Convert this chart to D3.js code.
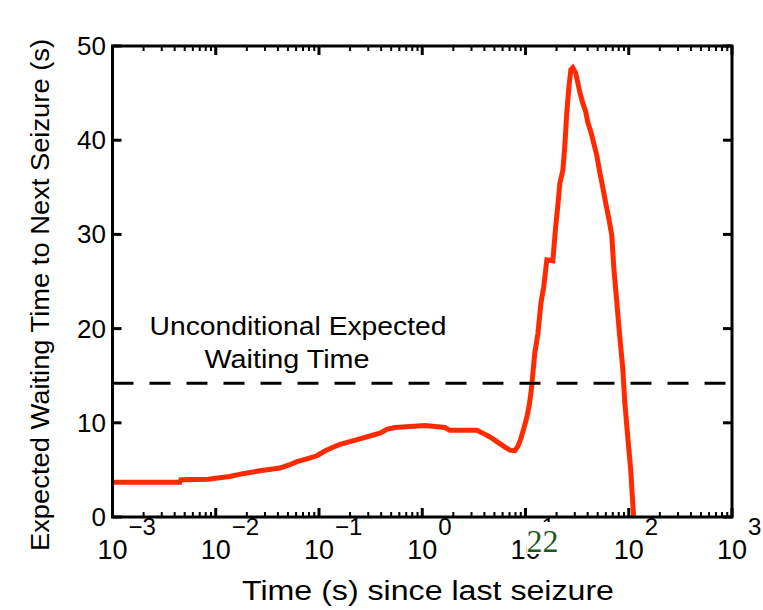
<!DOCTYPE html>
<html>
<head>
<meta charset="utf-8">
<script src="https://cdn.jsdelivr.net/npm/d3@7"></script>
<style>
  html, body { margin: 0; padding: 0; background: #fff; }
  svg { display: block; }
  text { font-family: "Liberation Sans", Arial, Helvetica, sans-serif; fill: #000; }
</style>
</head>
<body>
<svg id="chart" width="763" height="610"></svg>
<script>
// ---- data ----
const timeSec = [0.001, 0.0023, 0.0045, 0.0046, 0.0084, 0.0137, 0.0183, 0.0268, 0.0418, 0.0522, 0.0611, 0.0763, 0.0955,
  0.114, 0.133, 0.160, 0.199, 0.249, 0.311, 0.389, 0.454, 0.543, 1.06, 1.66, 1.85, 3.38, 3.86, 4.52, 5.28, 6.17, 7.05,
  7.88, 8.43, 9.01, 9.63, 10.3, 10.8, 11.3, 11.8, 12.3, 13.2, 14.1, 15.0, 16.1, 18.4, 19.6, 20.5, 21.5, 23.0, 24.0,
  25.1, 26.3, 27.5, 28.7, 30.7, 32.1, 33.6, 35.9, 38.4, 40.1, 42.9, 45.8, 49.0, 52.4, 56.0, 59.9, 64.1, 68.5, 71.6,
  76.6, 81.9, 87.5, 91.5, 97.8, 104.5, 109.3, 111.6];
const waitSec = [3.68, 3.7, 3.7, 3.95, 4.0, 4.3, 4.6, 4.9, 5.2, 5.55, 5.87, 6.16, 6.5,
  7.0, 7.36, 7.7, 8.0, 8.3, 8.6, 8.9, 9.3, 9.5, 9.7, 9.5, 9.2, 9.2, 8.9, 8.5, 8.0, 7.5, 7.1,
  7.04, 7.5, 8.3, 9.4, 10.6, 11.7, 13.2, 15.3, 17.4, 19.5, 22.7, 24.4, 27.3, 27.2, 30.8, 32.9, 35.4, 36.8, 39.3,
  42.9, 45.6, 47.5, 47.7, 47.1, 46.1, 45.1, 43.9, 43.0, 41.9, 40.9, 39.7, 38.4, 36.6, 35.0, 33.3, 31.7, 29.9, 26.5,
  22.8, 19.1, 15.8, 12.2, 8.5, 5.0, 1.5, 0.0];
const unconditionalWait = 14.2;
const xDomain = [1e-3, 1e3];
const yDomain = [0, 50];
const xTickExponents = [-3, -2, -1, 0, 1, 2, 3];
const yTickValues = [0, 10, 20, 30, 40, 50];
const annotationLines = ["Unconditional Expected", "Waiting Time"];
const xLabel = "Time (s) since last seizure";
const yLabel = "Expected Waiting Time to Next Seizure (s)";
const strayLabel = "22";

// ---- layout ----
const svg = d3.select("#chart");
const L = 112.5, R = 732, T = 46, B = 517;
const x = d3.scaleLog().domain(xDomain).range([L, R]);
const y = d3.scaleLinear().domain(yDomain).range([B, T]);

const g = svg.append("g");

// curve
const line = d3.line().x(d => x(d[0])).y(d => y(d[1]));
const pts = timeSec.map((t, i) => [t, waitSec[i]]);
g.append("path")
  .attr("d", line(pts))
  .attr("fill", "none")
  .attr("stroke", "#ff2a00")
  .attr("stroke-width", 5)
  .attr("stroke-linejoin", "miter");

// dashed unconditional line
g.append("line")
  .attr("x1", L).attr("x2", R)
  .attr("y1", y(unconditionalWait)).attr("y2", y(unconditionalWait))
  .attr("stroke", "#000").attr("stroke-width", 3)
  .attr("stroke-dasharray", "21,16");

// ticks (inward, mirrored)
const majorLen = 9, minorLen = 5;
const minor = [];
for (let e = -3; e < 3; e++) for (let k = 2; k <= 9; k++) minor.push(k * Math.pow(10, e));
const tg = g.append("g").attr("stroke", "#000");
minor.forEach(v => {
  tg.append("line").attr("x1", x(v)).attr("x2", x(v)).attr("y1", B).attr("y2", B - minorLen).attr("stroke-width", 2);
  tg.append("line").attr("x1", x(v)).attr("x2", x(v)).attr("y1", T).attr("y2", T + minorLen).attr("stroke-width", 2);
});
xTickExponents.forEach(e => {
  const v = Math.pow(10, e);
  tg.append("line").attr("x1", x(v)).attr("x2", x(v)).attr("y1", B).attr("y2", B - majorLen).attr("stroke-width", 3);
  tg.append("line").attr("x1", x(v)).attr("x2", x(v)).attr("y1", T).attr("y2", T + majorLen).attr("stroke-width", 3);
});
yTickValues.forEach(v => {
  tg.append("line").attr("x1", L).attr("x2", L + majorLen).attr("y1", y(v)).attr("y2", y(v)).attr("stroke-width", 3);
  tg.append("line").attr("x1", R).attr("x2", R - majorLen).attr("y1", y(v)).attr("y2", y(v)).attr("stroke-width", 3);
});

// box
g.append("rect")
  .attr("x", L).attr("y", T).attr("width", R - L).attr("height", B - T)
  .attr("fill", "none").attr("stroke", "#000").attr("stroke-width", 3);

// y tick labels
yTickValues.forEach(v => {
  g.append("text")
    .attr("x", 106).attr("y", y(v) + 9)
    .attr("text-anchor", "end")
    .attr("font-size", 26)
    .text(v);
});

// x tick labels: "10" centred on tick, exponent upper right
xTickExponents.forEach(e => {
  const cx = x(Math.pow(10, e));
  g.append("text")
    .attr("x", cx).attr("y", 559)
    .attr("text-anchor", "middle")
    .attr("font-size", 27)
    .text("10");
  g.append("text")
    .attr("x", cx + 16).attr("y", 535)
    .attr("text-anchor", "start")
    .attr("font-size", 24)
    .text(e < 0 ? "\u2212" + Math.abs(e) : String(e));
});

// stray "22" overlay near 10^1
const sx = x(10) + 17;
g.append("rect").attr("x", sx - 16).attr("y", 522).attr("width", 34).attr("height", 32).attr("fill", "#fff");
g.append("text")
  .attr("x", sx).attr("y", 552)
  .attr("text-anchor", "middle")
  .style("font-family", "'Liberation Serif', 'DejaVu Serif', 'Times New Roman', serif")
  .style("font-size", "32px")
  .style("fill", "#1e5a1e")
  .text(strayLabel);

// annotation
g.append("text").attr("x", 298).attr("y", 335).attr("text-anchor", "middle")
  .attr("font-size", 26).attr("textLength", 297).attr("lengthAdjust", "spacingAndGlyphs")
  .text(annotationLines[0]);
g.append("text").attr("x", 287).attr("y", 368).attr("text-anchor", "middle")
  .attr("font-size", 26).attr("textLength", 165).attr("lengthAdjust", "spacingAndGlyphs")
  .text(annotationLines[1]);

// axis labels
g.append("text").attr("x", 428).attr("y", 600).attr("text-anchor", "middle")
  .attr("font-size", 27).attr("textLength", 372).attr("lengthAdjust", "spacingAndGlyphs")
  .text(xLabel);
g.append("text")
  .attr("transform", "translate(49,295) rotate(-90)")
  .attr("text-anchor", "middle")
  .attr("font-size", 26).attr("textLength", 512).attr("lengthAdjust", "spacingAndGlyphs")
  .text(yLabel);
</script>
</body>
</html>
